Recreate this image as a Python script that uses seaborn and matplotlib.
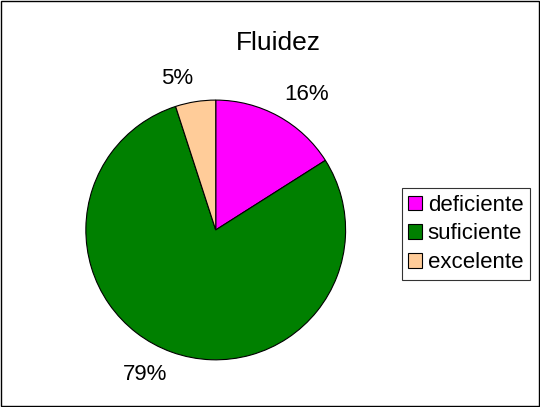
import matplotlib.pyplot as plt
import seaborn as sns
from matplotlib.patches import Rectangle

categories = ["deficiente", "suficiente", "excelente"]
values = [16, 79, 5]
colors = ["#FF00FF", "#008000", "#FFCC99"]

sns.set_style("white")
plt.rcParams["font.family"] = ["Liberation Sans", "DejaVu Sans"]
plt.rcParams["text.color"] = "black"

fig = plt.figure(figsize=(5.4, 4.07), dpi=100)
ax = fig.add_axes([0.159, 0.1155, 0.481, 0.639])

wedges, texts = ax.pie(
    values,
    colors=colors,
    startangle=90,
    counterclock=False,
    wedgeprops=dict(edgecolor="black", linewidth=0.8),
    labels=[f"{v}%" for v in values],
    labeldistance=1.1,
    textprops=dict(fontsize=16, color="black"),
)
# anchor each label by its corner nearest the pie, like spreadsheet charts do
for t in texts:
    x, y = t.get_position()
    t.set_horizontalalignment("left" if x > 0 else "right")
    t.set_verticalalignment("bottom" if y > 0 else "top")
ax.set_xlim(-1, 1)
ax.set_ylim(-1, 1)
ax.set_aspect("equal")

fig.text(0.515, 0.894, "Fluidez", ha="center", va="center", fontsize=19,
         color="black")

leg = fig.legend(
    wedges,
    categories,
    loc="upper left",
    bbox_to_anchor=(0.744, 0.538),
    frameon=True,
    fancybox=False,
    edgecolor="black",
    fontsize=16,
    handlelength=0.62,
    handleheight=0.62,
    handletextpad=0.25,
    labelspacing=0.35,
    borderpad=0.3,
    borderaxespad=0,
)
leg.get_frame().set_linewidth(0.8)
for t in leg.get_texts():
    t.set_color("black")

fig.patches.append(
    Rectangle((0.002, 0.002), 0.996, 0.995, transform=fig.transFigure,
              fill=False, edgecolor="black", linewidth=1)
)

fig.savefig("out.png", dpi=100)
